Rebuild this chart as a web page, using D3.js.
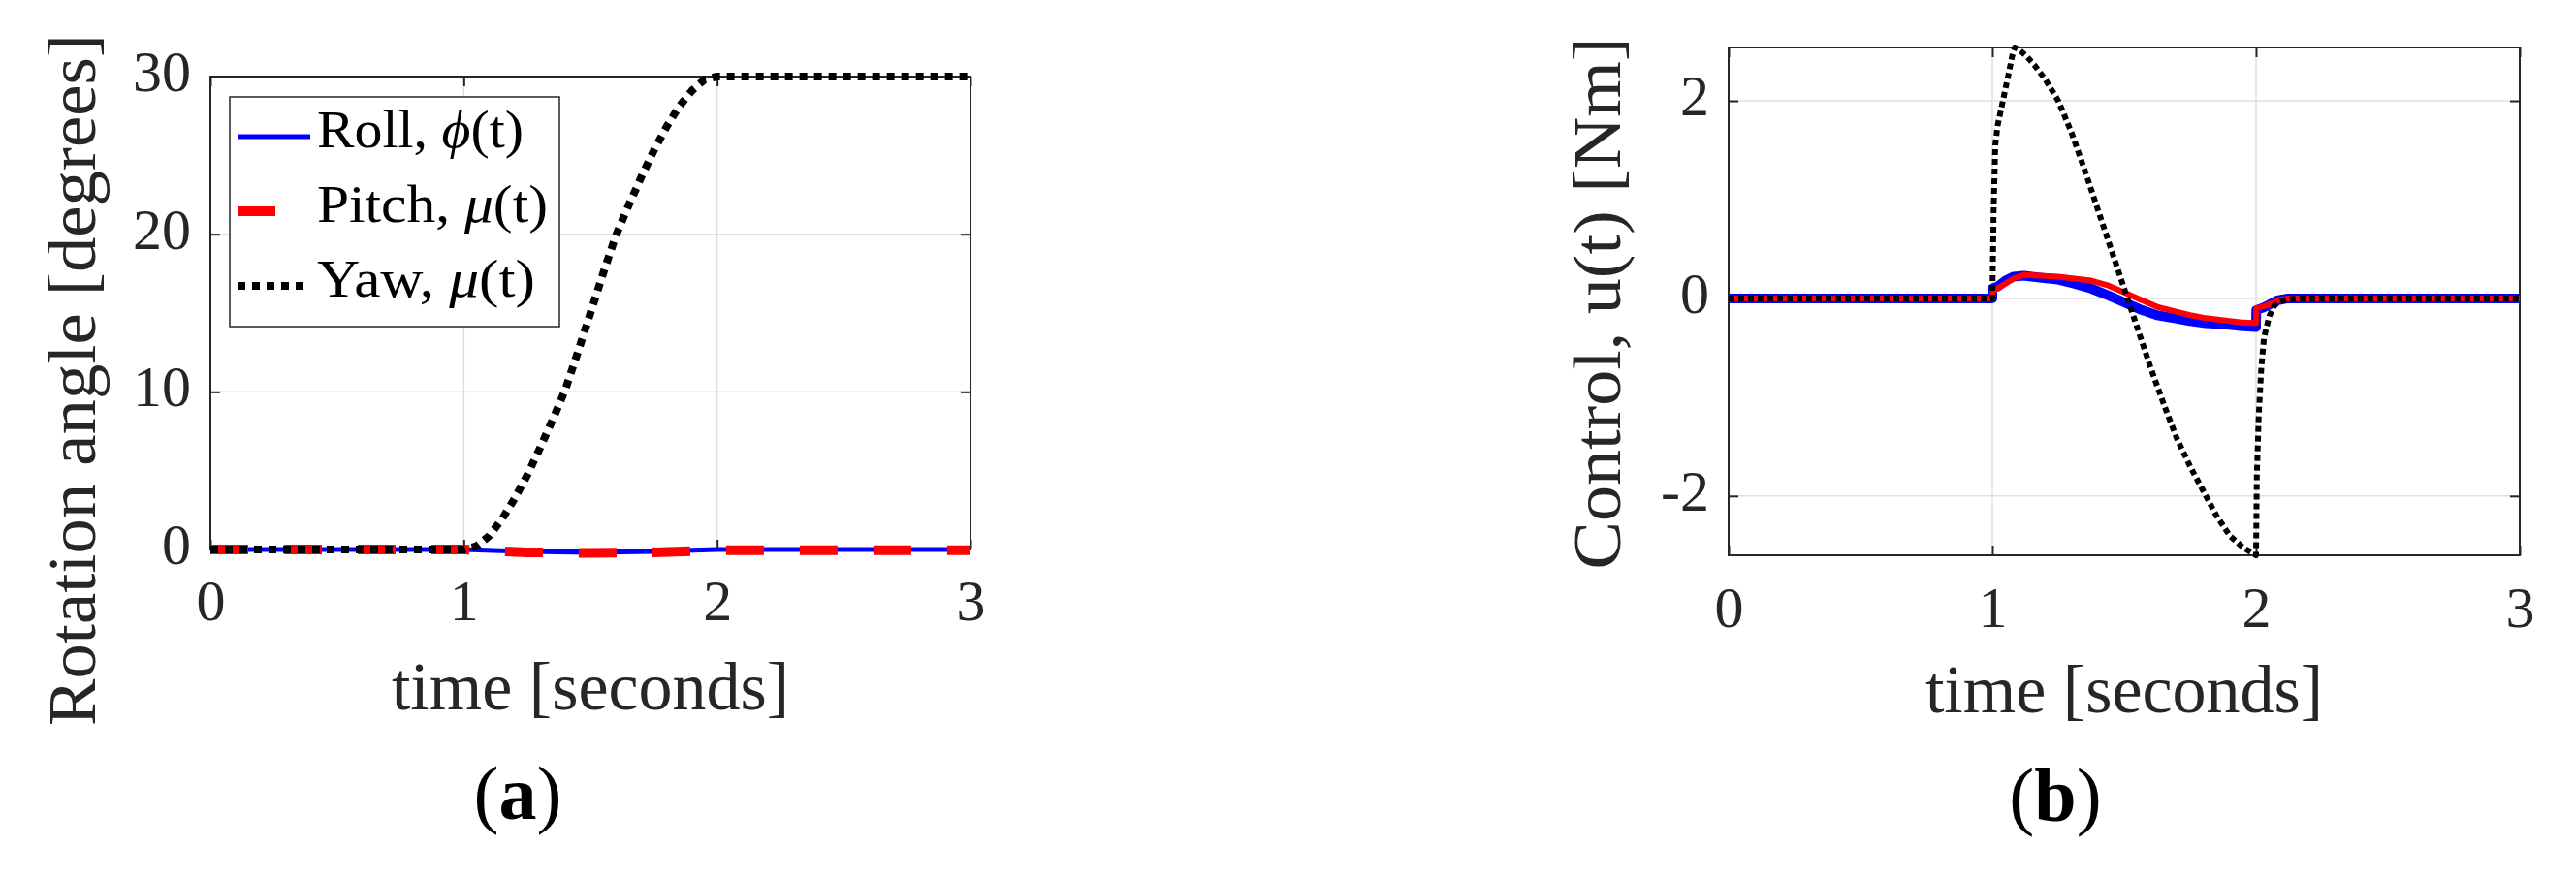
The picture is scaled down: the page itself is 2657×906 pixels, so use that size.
<!DOCTYPE html>
<html>
<head>
<meta charset="utf-8">
<script src="https://cdn.jsdelivr.net/npm/d3@7"></script>
<style>
  body { margin: 0; background: #fff; }
</style>
</head>
<body>
<script>
// ---- data ----
const xTicks = [0, 1, 2, 3];
const angleTicks = [0, 10, 20, 30];
const ctrlTicks = [-2, 0, 2];

// (a) rotation angles [degrees]
const attTime    = [0, 1, 1.25, 1.5, 1.75, 2, 3];
const rollAngle  = [0, 0, -0.12, -0.18, -0.12, 0, 0];
const pitchAngle = [0, 0, -0.18, -0.22, -0.18, -0.05, -0.05];
const yawTime    = [0, 1, 1.05, 1.1, 1.15, 1.2, 1.25, 1.3, 1.35, 1.4, 1.45, 1.5, 1.55, 1.6, 1.65, 1.7, 1.75, 1.8, 1.85, 1.9, 1.95, 2, 3];
const yawAngle   = [0, 0, 0.2, 0.85, 1.9, 3.2, 4.7, 6.4, 8.2, 10.1, 12.5, 15, 17.5, 19.9, 21.8, 23.6, 25.3, 26.8, 28.1, 29.1, 29.8, 30, 30];

// (b) control torques [Nm]
const ctrlTime  = [0, 1, 1.001, 1.02, 1.05, 1.08, 1.12, 1.18, 1.25, 1.31, 1.375, 1.44, 1.5, 1.56, 1.625, 1.69, 1.75, 1.81, 1.875, 1.94, 2.0, 2.001, 2.03, 2.06, 2.08, 2.12, 3];
const rollCtrl  = [0, 0, 0.1, 0.12, 0.18, 0.22, 0.23, 0.21, 0.19, 0.15, 0.1, 0.03, -0.04, -0.11, -0.17, -0.2, -0.23, -0.25, -0.26, -0.28, -0.29, -0.12, -0.09, -0.05, -0.02, 0, 0];
const pitchCtrl = [0, 0, 0.08, 0.1, 0.15, 0.2, 0.24, 0.23, 0.22, 0.2, 0.18, 0.13, 0.06, -0.01, -0.085, -0.13, -0.17, -0.2, -0.22, -0.24, -0.25, -0.1, -0.08, -0.05, -0.02, 0, 0];
const yawCtrlTime = [0, 1, 1.005, 1.011, 1.02, 1.04, 1.06, 1.075, 1.085, 1.1, 1.13, 1.16, 1.2, 1.25, 1.3, 1.35, 1.4, 1.45, 1.5, 1.55, 1.6, 1.65, 1.7, 1.75, 1.8, 1.85, 1.9, 1.95, 2.0, 2.003, 2.01, 2.02, 2.03, 2.05, 2.07, 2.1, 2.15, 3];
const yawCtrl     = [0, 0, 0.9, 1.55, 1.75, 2.0, 2.25, 2.45, 2.54, 2.52, 2.45, 2.36, 2.22, 2.0, 1.68, 1.3, 0.9, 0.5, 0.1, -0.3, -0.7, -1.07, -1.42, -1.7, -1.95, -2.2, -2.4, -2.52, -2.6, -1.8, -1.2, -0.7, -0.4, -0.18, -0.07, -0.02, 0, 0];

const legendLabels = [["Roll, ", "ϕ", "(t)"], ["Pitch, ", "μ", "(t)"], ["Yaw, ", "μ", "(t)"]];

// ---- drawing ----
const W = 2657, H = 906;
const font = '"Palatino Linotype", Palatino, "Book Antiqua", "Liberation Serif", serif';
const axisColor = "#262626", gridColor = "#dfdfdf";
const styles = {
  roll:  {stroke: "#0000ff", width: 5, dash: null},
  pitch: {stroke: "#ff0000", width: 10, dash: "39,37"},
  yaw:   {stroke: "#000000", width: 8, dash: "8,7"}
};

const svg = d3.select("body").append("svg")
    .attr("width", W).attr("height", H)
    .style("display", "block")
    .attr("font-family", font);
svg.append("rect").attr("width", W).attr("height", H).attr("fill", "#fff");

function drawPanel(p) {
  const x = d3.scaleLinear().domain([0, 3]).range([p.left, p.right]);
  const y = d3.scaleLinear().domain(p.yDomain).range([p.bottom, p.top]);
  const g = svg.append("g");

  // grid
  g.append("g").selectAll("line").data(xTicks).join("line")
      .attr("x1", d => x(d)).attr("x2", d => x(d))
      .attr("y1", p.top).attr("y2", p.bottom)
      .attr("stroke", gridColor).attr("stroke-width", 1.5);
  g.append("g").selectAll("line").data(p.yTicks).join("line")
      .attr("x1", p.left).attr("x2", p.right)
      .attr("y1", d => y(d)).attr("y2", d => y(d))
      .attr("stroke", gridColor).attr("stroke-width", 1.5);

  // ticks (inward, mirrored on all four sides)
  const styleAxis = s => s
      .attr("font-family", font).attr("font-size", 60)
      .call(a => a.select(".domain").remove())
      .call(a => a.selectAll("line").attr("stroke", axisColor).attr("stroke-width", 2))
      .call(a => a.selectAll("text").attr("fill", axisColor));
  const fmt = d => String(d);

  g.append("g").attr("transform", `translate(0,${p.bottom})`)
      .call(d3.axisBottom(x).tickValues(xTicks).tickSize(-10).tickFormat(fmt))
      .call(styleAxis)
      .call(a => a.selectAll("text").attr("y", p.xLabelDrop).attr("dy", null));
  g.append("g").attr("transform", `translate(0,${p.top})`)
      .call(d3.axisTop(x).tickValues(xTicks).tickSize(-10).tickFormat(""))
      .call(styleAxis);
  g.append("g").attr("transform", `translate(${p.left},0)`)
      .call(d3.axisLeft(y).tickValues(p.yTicks).tickSize(-10).tickPadding(20).tickFormat(fmt))
      .call(styleAxis)
      .call(a => a.selectAll("text").attr("dy", "0.24em"));
  g.append("g").attr("transform", `translate(${p.right},0)`)
      .call(d3.axisRight(y).tickValues(p.yTicks).tickSize(-10).tickFormat(""))
      .call(styleAxis);

  // box
  g.append("rect")
      .attr("x", p.left).attr("y", p.top)
      .attr("width", p.right - p.left).attr("height", p.bottom - p.top)
      .attr("fill", "none").attr("stroke", axisColor).attr("stroke-width", 2);

  // data
  const line = d3.line().x(d => x(d[0])).y(d => y(d[1]));
  p.series.forEach(s => {
    g.append("path")
        .datum(d3.zip(s.t, s.v))
        .attr("d", line)
        .attr("fill", "none")
        .attr("stroke", s.style.stroke)
        .attr("stroke-width", s.style.width)
        .attr("stroke-dasharray", s.style.dash)
        .attr("stroke-linejoin", "round");
  });

  // axis labels
  g.append("text")
      .attr("x", (p.left + p.right) / 2).attr("y", p.xTitleY)
      .attr("text-anchor", "middle").attr("font-size", 70).attr("fill", axisColor)
      .text("time [seconds]");
  g.append("text")
      .attr("transform", `translate(${p.yTitleX},${p.yTitleMid}) rotate(-90)`)
      .attr("text-anchor", "middle").attr("font-size", 70).attr("fill", axisColor)
      .attr("textLength", p.yTitleLen).attr("lengthAdjust", "spacingAndGlyphs")
      .text(p.yTitle);

  // sub-figure tag
  const tag = g.append("text")
      .attr("x", p.tagX).attr("y", p.tagY)
      .attr("text-anchor", "middle").attr("font-size", 78).attr("fill", "#000");
  tag.append("tspan").text("(");
  tag.append("tspan").attr("font-weight", "bold").text(p.tag);
  tag.append("tspan").text(")");

  return g;
}

const ga = drawPanel({
  left: 217, right: 1001, top: 79, bottom: 567,
  yDomain: [0, 30], yTicks: angleTicks, xLabelDrop: 73,
  xTitleY: 732, yTitle: "Rotation angle [degrees]", yTitleX: 98, yTitleMid: 392, yTitleLen: 714,
  tag: "a", tagX: 534, tagY: 845,
  series: [
    {t: attTime, v: rollAngle, style: styles.roll},
    {t: attTime, v: pitchAngle, style: styles.pitch},
    {t: yawTime, v: yawAngle, style: styles.yaw}
  ]
});

drawPanel({
  left: 1783, right: 2599, top: 49, bottom: 573,
  yDomain: [-2.6, 2.54], yTicks: ctrlTicks, xLabelDrop: 74,
  xTitleY: 735, yTitle: "Control, u(t) [Nm]", yTitleX: 1671, yTitleMid: 313, yTitleLen: 549,
  tag: "b", tagX: 2120, tagY: 847,
  series: [
    {t: ctrlTime, v: rollCtrl, style: {stroke: "#0000ff", width: 10, dash: null}},
    {t: ctrlTime, v: pitchCtrl, style: {stroke: "#ff0000", width: 6, dash: null}},
    {t: yawCtrlTime, v: yawCtrl, style: {stroke: "#000000", width: 6, dash: "6,4"}}
  ]
});

// legend for panel (a)
const leg = ga.append("g");
leg.append("rect")
    .attr("x", 237).attr("y", 100).attr("width", 340).attr("height", 237)
    .attr("fill", "#fff").attr("stroke", axisColor).attr("stroke-width", 1.5);
const legStyles = [styles.roll, styles.pitch, styles.yaw];
const legTextLen = [213, 238, 225];
legendLabels.forEach((lab, i) => {
  const base = 152 + i * 77;
  const s = legStyles[i];
  leg.append("line")
      .attr("x1", 245).attr("x2", 320)
      .attr("y1", base - 11).attr("y2", base - 11)
      .attr("stroke", s.stroke).attr("stroke-width", s.width)
      .attr("stroke-dasharray", s.dash);
  const t = leg.append("text")
      .attr("x", 327).attr("y", base)
      .attr("font-size", 54).attr("fill", "#000")
      .attr("textLength", legTextLen[i]).attr("lengthAdjust", "spacingAndGlyphs");
  t.append("tspan").text(lab[0]);
  t.append("tspan").attr("font-style", "italic").text(lab[1]);
  t.append("tspan").text(lab[2]);
});
</script>
</body>
</html>
